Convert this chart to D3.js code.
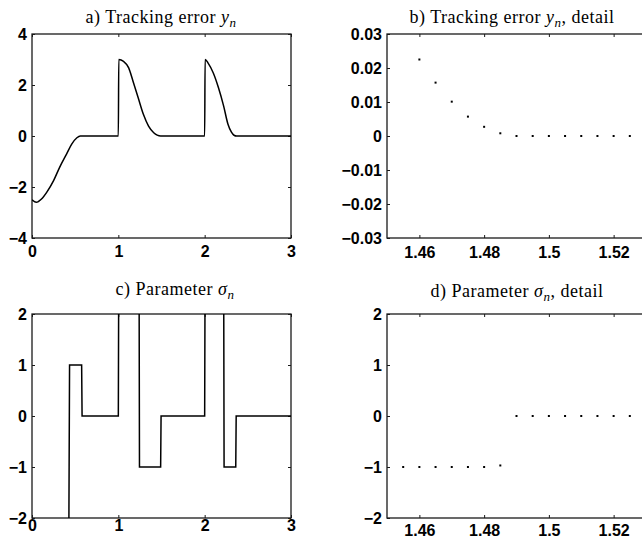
<!DOCTYPE html>
<html>
<head>
  <meta charset="UTF-8">
  <style>
    body { margin: 0; background: #fff; }
    svg { display: block; }
    .tick text { font-family: "Liberation Sans", Arial, sans-serif; font-size: 16px; font-weight: bold; fill: #000; }
    .title { font-family: "Liberation Serif", "Times New Roman", serif; font-size: 18px; letter-spacing: 0.5px; fill: #000; }
  </style>
</head>
<body>
<svg></svg>
<script src="https://d3js.org/d3.v7.min.js"></script>
<script>

let width = 642, height = 541;

// a) tracking error y_n (time, value)
const tA = [0, 0.05, 0.11, 0.17, 0.25, 0.32, 0.40, 0.46, 0.52, 0.56, 1.0, 1.005, 1.06, 1.12, 1.17, 1.23, 1.29, 1.35, 1.41, 1.45, 1.49, 2.0, 2.005, 2.04, 2.10, 2.16, 2.22, 2.27, 2.31, 2.34, 2.37, 3.0];
const yA = [-2.50, -2.60, -2.47, -2.21, -1.75, -1.23, -0.71, -0.32, -0.07, 0, 0, 3.0, 2.93, 2.67, 2.15, 1.50, 0.85, 0.39, 0.13, 0.035, 0, 0, 3.0, 2.86, 2.47, 1.89, 1.17, 0.46, 0.15, 0.03, 0, 0];

// b) tracking error detail (samples)
const tB = [1.46, 1.465, 1.47, 1.475, 1.48, 1.485, 1.49, 1.495, 1.5, 1.505, 1.51, 1.515, 1.52, 1.525];
const yB = [0.0225, 0.0157, 0.0101, 0.0057, 0.0027, 0.0008, 0, 0, 0, 0, 0, 0, 0, 0];

// c) parameter sigma_n
const tC = [0, 0.425, 0.435, 0.575, 0.58, 1.0, 1.005, 1.24, 1.245, 1.49, 1.495, 2.0, 2.005, 2.22, 2.225, 2.36, 2.365, 3.0];
const sC = [-3, -3, 1, 1, 0, 0, 3, 3, -1, -1, 0, 0, 3, 3, -1, -1, 0, 0];

// d) parameter detail (samples)
const tD = [1.455, 1.46, 1.465, 1.47, 1.475, 1.48, 1.485, 1.49, 1.495, 1.5, 1.505, 1.51, 1.515, 1.52, 1.525];
const sD = [-1, -1, -1, -1, -1, -1, -0.97, 0, 0, 0, 0, 0, 0, 0, 0];

// ticks
const ticksA_x = [0, 1, 2, 3], ticksA_y = [-4, -2, 0, 2, 4];
const ticksB_x = [1.46, 1.48, 1.5, 1.52], ticksB_y = [-0.03, -0.02, -0.01, 0, 0.01, 0.02, 0.03];
const ticksC_y = [-2, -1, 0, 1, 2];

let svg = d3.select("svg")
    .attr("width", width)
    .attr("height", height);

let fmt = d => String(+d.toFixed(3)).replace("-", "\u2212");

function panel(p) {
    let g = svg.append("g");
    let x = d3.scaleLinear().domain(p.xd).range([p.left, p.left + 259]);
    let y = d3.scaleLinear().domain(p.yd).range([p.top + 204, p.top]);

    g.append("clipPath").attr("id", p.id)
      .append("rect")
      .attr("x", p.left).attr("y", p.top)
      .attr("width", 259).attr("height", 204);

    // box
    g.append("rect")
      .attr("x", p.left).attr("y", p.top)
      .attr("width", 259).attr("height", 204)
      .attr("fill", "none").attr("stroke", "#1a1a1a").attr("stroke-width", 1.3);

    // axes with inward ticks, labels only bottom/left
    g.append("g").attr("transform", "translate(0," + (p.top + 204) + ")")
      .call(d3.axisBottom(x).tickValues(p.xt).tickSizeInner(-3).tickSizeOuter(0).tickPadding(p.xpad).tickFormat(fmt));
    g.append("g").attr("transform", "translate(" + p.left + ",0)")
      .call(d3.axisLeft(y).tickValues(p.yt).tickSizeInner(-3).tickSizeOuter(0).tickPadding(5).tickFormat(fmt));
    g.append("g").attr("transform", "translate(0," + p.top + ")")
      .call(d3.axisTop(x).tickValues(p.xt).tickSizeInner(-3).tickSizeOuter(0).tickFormat(""));
    g.append("g").attr("transform", "translate(" + (p.left + 259) + ",0)")
      .call(d3.axisRight(y).tickValues(p.yt).tickSizeInner(-3).tickSizeOuter(0).tickFormat(""));
    g.selectAll(".domain").remove();
    g.selectAll(".tick line").attr("stroke", "#1a1a1a");

    if (p.line) {
        let data = p.xs.map((v, i) => [v, p.ys[i]]);
        g.append("path")
          .datum(data)
          .attr("clip-path", "url(#" + p.id + ")")
          .attr("fill", "none")
          .attr("stroke", "#000")
          .attr("stroke-width", 1.5)
          .attr("d", d3.line().x(d => x(d[0])).y(d => y(d[1])).curve(p.curve));
    } else {
        g.selectAll("rect.dot")
          .data(p.xs.map((v, i) => [v, p.ys[i]]))
          .join("rect")
          .attr("class", "dot")
          .attr("x", d => x(d[0]) - 1)
          .attr("y", d => y(d[1]) - 1)
          .attr("width", 2).attr("height", 2)
          .attr("fill", "#000");
    }

    // title
    let t = svg.append("text").attr("class", "title")
      .attr("x", p.tx).attr("y", p.ty)
      .attr("text-anchor", "middle");
    t.append("tspan").text(p.title[0]);
    t.append("tspan").attr("font-style", "italic").text(p.title[1]);
    t.append("tspan").attr("font-style", "italic").attr("font-size", "13px").attr("dy", 4).text("n");
    if (p.title[2]) t.append("tspan").attr("dy", -4).text(p.title[2]);
}

panel({id: "ca", left: 32, top: 34, xd: [0, 3], yd: [-4, 4], xt: ticksA_x, yt: ticksA_y, xpad: 8,
    line: true, xs: tA, ys: yA, curve: d3.curveMonotoneX,
    title: ["a) Tracking error ", "y", ""], tx: 161, ty: 23});
panel({id: "cb", left: 387, top: 34, xd: [1.45, 1.53], yd: [-0.03, 0.03], xt: ticksB_x, yt: ticksB_y, xpad: 9,
    line: false, xs: tB, ys: yB,
    title: ["b) Tracking error ", "y", ", detail"], tx: 512, ty: 23});
panel({id: "cc", left: 32, top: 314, xd: [0, 3], yd: [-2, 2], xt: ticksA_x, yt: ticksC_y, xpad: 2,
    line: true, xs: tC, ys: sC, curve: d3.curveLinear,
    title: ["c) Parameter ", "\u03c3", ""], tx: 175, ty: 295});
panel({id: "cd", left: 387, top: 314, xd: [1.45, 1.53], yd: [-2, 2], xt: ticksB_x, yt: ticksC_y, xpad: 7,
    line: false, xs: tD, ys: sD,
    title: ["d) Parameter ", "\u03c3", ", detail"], tx: 517, ty: 297});

</script>
</body>
</html>
